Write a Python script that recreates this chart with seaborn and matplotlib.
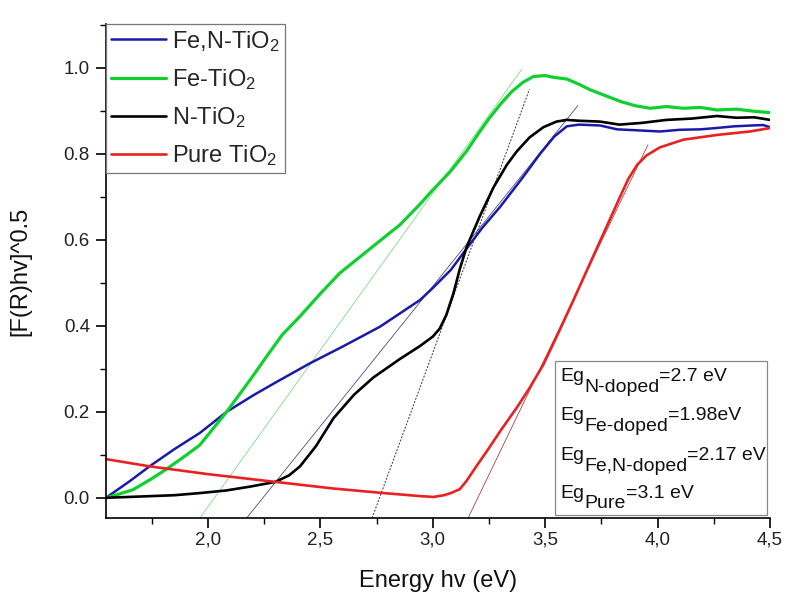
import matplotlib
matplotlib.use("Agg")
import matplotlib.pyplot as plt
import seaborn as sns
from matplotlib.patches import Rectangle
from matplotlib.ticker import MultipleLocator, FuncFormatter

# data
fen_x = [1.546, 1.65, 1.742, 1.85, 1.964, 2.083, 2.20, 2.30, 2.454, 2.60, 2.765, 2.854,
         2.943, 3.0, 3.08, 3.151, 3.22, 3.30, 3.40, 3.477, 3.54, 3.596, 3.65, 3.744,
         3.82, 3.90, 4.01, 4.10, 4.19, 4.26, 4.34, 4.42, 4.47, 4.5]
fen_y = [0.0, 0.038, 0.074, 0.113, 0.151, 0.200, 0.238, 0.268, 0.313, 0.352, 0.398, 0.429,
         0.460, 0.488, 0.530, 0.580, 0.628, 0.677, 0.745, 0.800, 0.840, 0.864, 0.868, 0.866,
         0.857, 0.855, 0.852, 0.856, 0.857, 0.860, 0.864, 0.866, 0.867, 0.862]

fe_x = [1.546, 1.60, 1.667, 1.742, 1.816, 1.90, 1.964, 2.083, 2.187, 2.261, 2.33, 2.409,
        2.50, 2.587, 2.68, 2.751, 2.854, 2.943, 3.0, 3.08, 3.151, 3.20, 3.25, 3.30,
        3.35, 3.40, 3.448, 3.50, 3.537, 3.596, 3.65, 3.70, 3.77, 3.834, 3.90, 3.967, 4.04,
        4.115, 4.19, 4.264, 4.35, 4.43, 4.5]
fe_y = [0.0, 0.008, 0.019, 0.042, 0.067, 0.098, 0.123, 0.200, 0.274, 0.329, 0.379, 0.422,
        0.475, 0.523, 0.562, 0.592, 0.635, 0.683, 0.716, 0.760, 0.807, 0.845, 0.882, 0.915,
        0.944, 0.966, 0.980, 0.982, 0.978, 0.974, 0.962, 0.949, 0.935, 0.922, 0.912, 0.906,
        0.910, 0.906, 0.908, 0.902, 0.904, 0.899, 0.896]

n_x = [1.546, 1.70, 1.85, 1.964, 2.08, 2.187, 2.30, 2.36, 2.409, 2.48, 2.558, 2.65,
       2.736, 2.854, 2.943, 3.0, 3.03, 3.06, 3.092, 3.12, 3.151, 3.21, 3.27, 3.33, 3.374,
       3.43, 3.492, 3.55, 3.596, 3.65, 3.744, 3.83, 3.93, 4.04, 4.15, 4.264, 4.35, 4.43, 4.5]
n_y = [0.0, 0.003, 0.006, 0.011, 0.017, 0.026, 0.037, 0.052, 0.073, 0.120, 0.185, 0.240,
       0.280, 0.323, 0.353, 0.375, 0.393, 0.425, 0.476, 0.532, 0.584, 0.656, 0.722, 0.775,
       0.806, 0.838, 0.862, 0.875, 0.879, 0.877, 0.875, 0.868, 0.872, 0.879, 0.882, 0.888,
       0.884, 0.885, 0.879]

pure_x = [1.546, 1.742, 2.0, 2.30, 2.55, 2.78, 2.943, 3.003, 3.05, 3.08, 3.12, 3.151,
          3.196, 3.24, 3.30, 3.374, 3.43, 3.492, 3.56, 3.626, 3.744, 3.834, 3.87, 3.91,
          3.95, 4.01, 4.115, 4.264, 4.41, 4.5]
pure_y = [0.090, 0.073, 0.055, 0.037, 0.022, 0.011, 0.004, 0.002, 0.006, 0.011, 0.020, 0.040,
          0.075, 0.108, 0.155, 0.210, 0.255, 0.310, 0.385, 0.460, 0.597, 0.701, 0.742, 0.775,
          0.796, 0.815, 0.833, 0.844, 0.852, 0.860]

# linear fits used for band gap estimation (end points)
fit_fe_x, fit_fe_y = [1.964, 3.396], [-0.047, 0.997]
fit_fen_x, fit_fen_y = [2.172, 3.645], [-0.047, 0.912]
fit_n_x, fit_n_y = [2.73, 3.43], [-0.047, 0.950]
fit_pure_x, fit_pure_y = [3.157, 3.957], [-0.047, 0.821]

labels = ["Fe,N-TiO$_2$", "Fe-TiO$_2$", "N-TiO$_2$", "Pure TiO$_2$"]
eg_subs = ["N-doped", "Fe-doped", "Fe,N-doped", "Pure"]
eg_vals = ["=2.7 eV", "=1.98eV", "=2.17 eV", "=3.1 eV"]

sns.set_style("ticks")
plt.rcParams['font.family'] = ['Liberation Sans', 'DejaVu Sans']
plt.rcParams['mathtext.default'] = 'regular'

fig, ax = plt.subplots(figsize=(7.92, 6.11), dpi=100)
fig.subplots_adjust(left=0.1338, right=0.9722, top=0.9607, bottom=0.1522)

blue, green, black, red = '#1a1aa8', '#10d030', '#000000', '#e82222'

# tangent lines
sns.lineplot(x=fit_fe_x, y=fit_fe_y, color='#7fdc8a', lw=0.6, ax=ax)
sns.lineplot(x=fit_fen_x, y=fit_fen_y, color='#4a4a80', lw=0.6, ax=ax)
sns.lineplot(x=fit_n_x, y=fit_n_y, color='#333333', lw=0.7, ax=ax)
ax.lines[-1].set_dashes((2, 1.5))
sns.lineplot(x=fit_pure_x, y=fit_pure_y, color='#b04040', lw=0.6, ax=ax)

sns.lineplot(x=fen_x, y=fen_y, color=blue, lw=1.8, label=labels[0], ax=ax)
sns.lineplot(x=fe_x, y=fe_y, color=green, lw=2.3, label=labels[1], ax=ax)
sns.lineplot(x=n_x, y=n_y, color=black, lw=1.9, label=labels[2], ax=ax)
sns.lineplot(x=pure_x, y=pure_y, color=red, lw=1.9, label=labels[3], ax=ax)

ax.set_xlim(1.546, 4.5)
ax.set_ylim(-0.047, 1.102)
sns.despine(ax=ax)
for s in ['left', 'bottom']:
    ax.spines[s].set_linewidth(1.2)
    ax.spines[s].set_color('black')

ax.xaxis.set_major_locator(MultipleLocator(0.5))
ax.xaxis.set_minor_locator(MultipleLocator(0.25))
ax.yaxis.set_major_locator(MultipleLocator(0.2))
ax.yaxis.set_minor_locator(MultipleLocator(0.1))
ax.xaxis.set_major_formatter(FuncFormatter(lambda v, _: f"{v:.1f}".replace('.', ',')))
ax.yaxis.set_major_formatter(FuncFormatter(lambda v, _: f"{v:.1f}"))
ax.tick_params(which='major', direction='out', length=7, width=1.2, labelsize=13.5,
               color='black', labelcolor='#222222')
ax.tick_params(which='minor', direction='out', length=4.5, width=1.0, color='black')
ax.tick_params(axis='y', pad=4.5)
ax.tick_params(axis='x', pad=3)

ax.set_xlabel("Energy hv (eV)", fontsize=17, color='#111111')
ax.set_ylabel("[F(R)hv]^0.5", fontsize=17, color='#111111')
ax.xaxis.set_label_coords(0.5, -0.105)
ax.yaxis.set_label_coords(-0.112, 0.5)

leg = ax.legend(loc='upper left', bbox_to_anchor=(0, 1), borderaxespad=0, fontsize=17,
                handlelength=2.35, handletextpad=0.25, labelspacing=0.56, borderpad=0.2,
                fancybox=False, framealpha=1, edgecolor='#777777')
leg.get_frame().set_linewidth(0.9)

# band gap box
ax.add_patch(Rectangle((0.676, 0.006), 0.3195, 0.312, transform=ax.transAxes,
                       facecolor='white', edgecolor='#888888', lw=0.9, zorder=4))
baselines = [0.277, 0.198, 0.117, 0.0405]
for sub, val, yb in zip(eg_subs, eg_vals, baselines):
    t1 = ax.text(0.684, yb, "Eg", transform=ax.transAxes, fontsize=14,
                 va='baseline', ha='left', zorder=5, color='#111111')
    t2 = ax.annotate(sub, xy=(1, 0), xycoords=t1, xytext=(0, -7.5), textcoords='offset points',
                     fontsize=14, va='bottom', ha='left', zorder=5, color='#111111')
    ax.annotate(val, xy=(1, 0), xycoords=(t2, t1), fontsize=14, va='bottom', ha='left',
                zorder=5, color='#111111')

plt.savefig("out.png", dpi=100)
